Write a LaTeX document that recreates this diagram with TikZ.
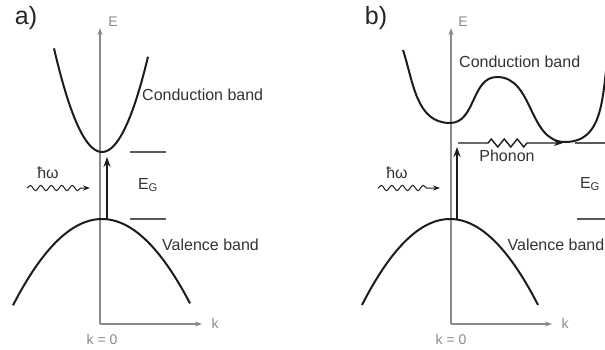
\documentclass[tikz,border=0pt]{standalone}
\usepackage{fontspec}
\setmainfont{Liberation Sans}
\usetikzlibrary{arrows.meta, decorations.pathmorphing}
\definecolor{eixocor}{HTML}{8A8A8A}
\definecolor{bandacor}{HTML}{1C1C1C}
\definecolor{textocor}{HTML}{333333}

\begin{document}
\begin{tikzpicture}[x=1pt,y=-1pt,
    every node/.style={font=\fontsize{16}{18}\selectfont, text=textocor, inner sep=0pt},
    eixo/.style={eixocor, line width=1.1pt, -{Stealth[length=7pt,width=5pt]}},
    eixotxt/.style={text=eixocor, font=\fontsize{14}{16}\selectfont},
    banda/.style={bandacor, line width=2pt},
    seta/.style={bandacor, line width=2.3pt, -{Stealth[length=10pt,width=7pt]}},
    nivel/.style={black!65, line width=1.1pt},
    onda/.style={bandacor, line width=1pt, decorate,
        decoration={snake, amplitude=2.6pt, segment length=10.5pt, post length=9pt},
        -{Stealth[length=7pt,width=5pt]}},
    painel/.style={font=\fontsize{25}{28}\selectfont, text=black!85}]
    \useasboundingbox (0,0) rectangle (605,349);
    \clip (0,0) rectangle (605,349);

    % a) gap direto
    \node[painel] (rotA) at (26,18) {a)};
    % Eixos
    \coordinate (origA) at (100,324);
    \coordinate (topoA) at (100,28);
    \coordinate (dirA) at (202,324);
    \draw[eixo] (origA) -- (topoA);
    \draw[eixo] (origA) -- (dirA);
    \node[eixotxt] (EA) at (113,22) {E};
    \node[eixotxt] (kA) at (215,323) {k};
    \node[eixotxt] (k0A) at (102,339) {k = 0};
    % Bandas
    \draw[banda] plot[domain=54:148, samples=60] (\x, {152-0.045*(\x-102)^2});
    \draw[banda] plot[domain=13:190, samples=60] (\x, {219+0.0109*(\x-102)^2});
    \node[anchor=west] (cbA) at (142,95) {Conduction band};
    \node[anchor=west] (vbA) at (162,245) {Valence band};
    % Transicao
    \coordinate (vA) at (107,219);
    \coordinate (cA) at (107,157);
    \draw[seta] (vA) -- (cA);
    \coordinate (fotA1) at (27,188);
    \coordinate (fotA2) at (90,188);
    \draw[onda] (fotA1) -- (fotA2);
    \node (hwA) at (48,173) {ħω};
    % Gap
    \draw[nivel] (130,152) -- (166,152);
    \draw[nivel] (130,219) -- (166,219);
    \node (EgA) at (148,185) {E\textsubscript{G}};

    % b) gap indireto
    \node[painel] (rotB) at (376,18) {b)};
    % Eixos
    \coordinate (origB) at (451,324);
    \coordinate (topoB) at (451,28);
    \coordinate (dirB) at (552,324);
    \draw[eixo] (origB) -- (topoB);
    \draw[eixo] (origB) -- (dirB);
    \node[eixotxt] (EB) at (463,22) {E};
    \node[eixotxt] (kB) at (565,323) {k};
    \node[eixotxt] (k0B) at (451,339) {k = 0};
    % Bandas
    \draw[banda] (403,50) to[out=-72,in=180] (450,123) to[out=0,in=180] (497,77)
        to[out=0,in=180] (565,142) to[out=0,in=-105] (612,35);
    \draw[banda] plot[domain=362:538, samples=60] (\x, {219+0.0111*(\x-450)^2});
    \node[anchor=west] (cbB) at (459,62) {Conduction band};
    \node[anchor=east] (vbB) at (604.5,245) {Valence band};
    % Transicao + fonon
    \coordinate (vB) at (457,219);
    \coordinate (cB) at (457,147);
    \draw[seta] (vB) -- (cB);
    \coordinate (fonB1) at (458,143);
    \coordinate (fonB2) at (563,143);
    \draw[bandacor, line width=1.4pt, -{Stealth[length=9pt,width=6pt]}] (fonB1) -- (488,143)
        decorate[decoration={zigzag, segment length=13pt, amplitude=4pt}] {-- (527,143)} -- (fonB2);
    \node (fon) at (507,156) {Phonon};
    \coordinate (fotB1) at (378,188);
    \coordinate (fotB2) at (440,188);
    \draw[onda] (fotB1) -- (fotB2);
    \node (hwB) at (397,173) {ħω};
    % Gap
    \draw[nivel] (575,143) -- (610,143);
    \draw[nivel] (577,219) -- (610,219);
    \node (EgB) at (590,184) {E\textsubscript{G}};
\end{tikzpicture}
\end{document}
